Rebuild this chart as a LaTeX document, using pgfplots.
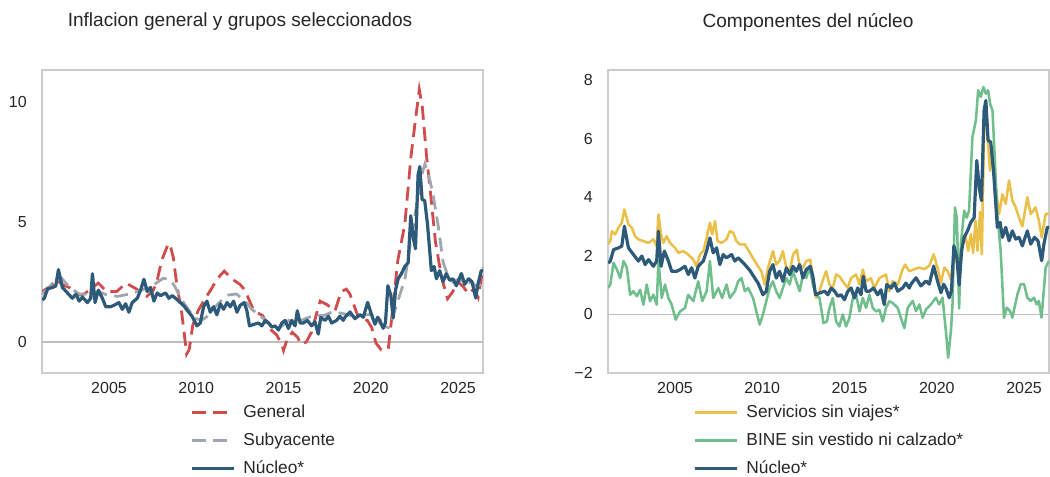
\documentclass[border=0pt]{standalone}
\usepackage{fontspec}
\setmainfont{Liberation Sans}
\usepackage{pgfplots}
\usepackage{pgfplotstable}
\pgfplotsset{compat=1.18}
\definecolor{cred}{RGB}{208,76,76}
\definecolor{cgray}{RGB}{160,166,176}
\definecolor{cblue}{RGB}{45,90,120}
\definecolor{cyel}{RGB}{234,192,72}
\definecolor{cgreen}{RGB}{112,190,140}
\definecolor{ctext}{RGB}{38,38,38}
\definecolor{cframe}{RGB}{204,204,204}
\definecolor{czero}{RGB}{190,190,190}

\pgfplotstableread{
x y
2001.17 1.75
2001.29 1.82
2001.48 2.21
2001.76 2.27
2001.95 2.33
2002.10 3.01
2002.33 2.27
2002.62 2.04
2002.90 1.82
2003.10 1.99
2003.29 1.70
2003.48 1.87
2003.76 1.64
2003.95 1.82
2004.05 2.84
2004.20 1.64
2004.39 2.16
2004.62 1.82
2004.81 1.47
2005.10 1.47
2005.29 1.53
2005.57 1.64
2005.76 1.36
2005.95 1.59
2006.14 1.24
2006.33 1.64
2006.62 1.82
2006.81 2.16
2007.00 2.61
2007.19 2.10
2007.38 2.27
2007.57 1.70
2007.76 2.04
2007.95 1.93
2008.24 2.04
2008.43 1.82
2008.62 1.93
2008.81 1.82
2009.00 1.70
2009.29 1.50
2009.57 1.24
2009.76 1.07
2010.04 0.67
2010.23 0.79
2010.42 1.47
2010.61 1.70
2010.80 1.24
2010.99 1.47
2011.18 1.13
2011.38 1.59
2011.57 1.36
2011.76 1.64
2011.95 1.47
2012.14 1.70
2012.33 1.24
2012.52 1.53
2012.75 1.64
2012.90 1.30
2013.05 0.67
2013.28 0.73
2013.57 0.79
2013.76 0.67
2013.95 0.90
2014.14 0.79
2014.33 0.62
2014.52 0.67
2014.71 0.50
2014.90 0.79
2015.09 0.90
2015.28 0.56
2015.47 0.90
2015.66 0.67
2015.79 1.30
2015.95 0.79
2016.14 0.79
2016.37 0.90
2016.61 0.67
2016.80 0.84
2016.99 0.33
2017.13 1.02
2017.38 0.90
2017.57 1.07
2017.76 0.79
2018.04 0.90
2018.23 1.07
2018.42 0.90
2018.52 1.03
2018.81 1.25
2019.09 0.97
2019.38 1.14
2019.57 1.03
2019.82 1.65
2020.04 1.14
2020.24 0.74
2020.39 1.03
2020.52 0.90
2020.71 0.57
2020.84 0.80
2020.98 2.34
2021.15 1.94
2021.28 1.00
2021.42 2.17
2021.57 2.63
2021.76 2.85
2021.95 3.14
2022.14 3.30
2022.29 5.25
2022.43 4.34
2022.56 3.88
2022.71 6.96
2022.81 7.30
2022.94 5.94
2023.09 5.88
2023.25 4.90
2023.38 3.77
2023.47 2.97
2023.63 3.14
2023.76 2.63
2023.95 2.97
2024.14 2.51
2024.33 2.85
2024.52 2.57
2024.71 2.63
2024.90 2.34
2025.19 2.85
2025.38 2.40
2025.60 2.63
2025.80 2.51
2026.01 1.83
2026.14 2.40
2026.33 2.97
2026.43 2.97
}\nucleo

\pgfplotstableread{
x y
2001.17 2.10
2001.60 2.30
2002.00 2.60
2002.29 2.40
2002.77 2.25
2003.25 1.95
2003.60 2.00
2003.92 2.20
2004.39 2.45
2004.87 2.10
2005.44 2.10
2005.98 2.45
2006.59 2.20
2006.90 2.00
2007.16 1.90
2007.50 2.10
2007.74 2.50
2008.02 3.40
2008.40 4.10
2008.55 3.90
2008.69 3.50
2008.88 2.40
2009.17 1.20
2009.45 -0.50
2009.60 -0.30
2009.80 0.70
2010.10 1.30
2010.50 1.80
2010.90 2.25
2011.17 2.60
2011.60 2.95
2012.10 2.60
2012.50 2.40
2012.80 2.15
2013.00 1.80
2013.30 1.30
2013.80 1.10
2014.20 0.55
2014.60 0.30
2014.90 -0.10
2015.00 -0.35
2015.20 0.10
2015.50 0.40
2015.80 0.20
2016.00 -0.10
2016.30 0.00
2016.60 0.40
2016.90 1.20
2017.10 1.70
2017.50 1.55
2017.95 1.30
2018.30 2.10
2018.60 2.20
2018.80 2.00
2019.30 1.00
2019.80 0.90
2020.05 0.60
2020.30 -0.05
2020.60 -0.33
2021.00 -0.30
2021.20 1.00
2021.55 3.40
2021.95 4.90
2022.30 7.70
2022.55 9.20
2022.78 10.50
2022.95 9.80
2023.20 7.70
2023.45 6.00
2023.70 4.20
2024.05 2.70
2024.40 1.80
2024.70 2.10
2025.00 2.50
2025.30 2.30
2025.60 2.00
2025.90 2.20
2026.15 1.85
2026.43 3.10
}\general

\pgfplotstableread{
x y
2001.17 2.00
2001.60 2.30
2002.00 2.60
2002.29 2.65
2002.77 2.25
2003.30 2.00
2003.90 2.00
2004.40 2.10
2004.90 1.95
2005.50 1.90
2006.20 2.00
2006.80 2.15
2007.40 2.30
2008.10 2.65
2008.50 2.60
2008.78 2.30
2009.17 1.75
2009.50 1.40
2009.90 1.00
2010.30 0.90
2010.60 1.05
2011.00 1.40
2011.40 1.70
2011.80 1.95
2012.30 2.00
2012.80 1.70
2013.20 1.35
2013.90 0.95
2014.30 0.70
2014.80 0.60
2015.30 0.90
2016.00 0.90
2016.70 1.10
2017.30 1.10
2017.80 1.25
2018.30 1.20
2018.90 1.10
2019.50 1.10
2019.90 1.15
2020.20 1.10
2020.60 0.70
2021.00 0.60
2021.20 0.90
2021.50 1.60
2021.95 2.60
2022.30 4.20
2022.60 5.60
2022.90 6.90
2023.10 7.40
2023.30 7.00
2023.55 6.20
2023.85 4.90
2024.15 3.30
2024.40 2.80
2024.70 2.50
2025.00 2.60
2025.40 2.50
2025.80 2.45
2026.10 2.30
2026.43 2.50
}\subyacente

\pgfplotstableread{
x y
2001.17 2.40
2001.29 2.50
2001.38 2.84
2001.57 2.73
2001.76 2.96
2001.95 3.13
2002.10 3.58
2002.33 3.07
2002.52 2.96
2002.71 2.67
2002.90 2.56
2003.19 2.50
2003.48 2.44
2003.76 2.56
2003.95 2.33
2004.05 3.41
2004.20 2.73
2004.33 2.44
2004.52 2.67
2004.71 2.44
2005.00 2.27
2005.19 2.10
2005.48 2.16
2005.76 2.04
2006.05 1.87
2006.24 1.64
2006.43 2.04
2006.62 2.16
2006.81 2.61
2007.00 3.13
2007.13 2.73
2007.29 3.18
2007.44 2.50
2007.67 2.44
2007.95 2.56
2008.14 2.84
2008.33 2.79
2008.52 2.50
2008.71 2.39
2009.00 2.39
2009.23 2.16
2009.57 1.82
2009.76 1.64
2009.95 1.47
2010.14 1.02
2010.33 1.59
2010.61 2.16
2010.80 1.70
2010.99 1.82
2011.18 2.16
2011.38 1.59
2011.57 1.47
2011.76 2.04
2011.98 2.21
2012.14 1.64
2012.33 1.59
2012.52 1.82
2012.75 1.87
2012.90 1.24
2013.09 0.56
2013.28 0.79
2013.51 1.24
2013.66 1.47
2013.85 1.02
2014.04 0.90
2014.23 1.36
2014.42 1.30
2014.61 1.13
2014.90 0.90
2015.09 1.24
2015.38 1.36
2015.57 1.02
2015.76 1.53
2015.95 1.13
2016.23 1.24
2016.42 0.90
2016.71 1.24
2016.90 1.30
2017.09 1.36
2017.28 0.79
2017.47 1.13
2017.76 1.02
2018.04 1.53
2018.19 1.70
2018.42 1.47
2018.71 1.54
2019.00 1.60
2019.28 1.54
2019.57 1.66
2019.82 2.05
2020.04 1.60
2020.24 1.08
2020.43 1.60
2020.62 1.48
2020.81 1.20
2021.00 2.00
2021.15 1.80
2021.28 1.30
2021.42 2.00
2021.47 2.40
2021.66 2.63
2021.80 2.17
2021.95 2.74
2022.08 2.10
2022.22 3.20
2022.33 2.17
2022.48 3.50
2022.58 2.05
2022.71 6.20
2022.81 7.20
2022.94 5.80
2023.05 4.90
2023.19 5.70
2023.38 4.34
2023.57 3.42
2023.76 4.10
2023.95 3.77
2024.14 4.57
2024.33 3.88
2024.52 3.65
2024.71 3.31
2024.90 3.00
2025.19 4.00
2025.38 3.42
2025.66 3.65
2025.85 3.20
2026.01 2.63
2026.24 3.42
2026.43 3.45
}\servicios

\pgfplotstableread{
x y
2001.17 0.90
2001.29 1.02
2001.48 1.76
2001.67 1.53
2001.86 1.24
2002.05 1.82
2002.24 1.59
2002.43 0.67
2002.62 0.79
2002.81 0.62
2003.00 0.84
2003.19 0.33
2003.38 1.02
2003.57 0.45
2003.76 0.67
2003.95 0.33
2004.05 1.82
2004.24 0.56
2004.43 1.02
2004.62 0.56
2004.81 0.33
2005.04 -0.18
2005.29 0.10
2005.57 0.22
2005.76 0.67
2006.05 0.45
2006.33 1.13
2006.56 0.45
2006.81 0.79
2007.00 1.82
2007.19 0.56
2007.48 0.90
2007.70 0.56
2007.95 1.02
2008.14 0.56
2008.43 0.79
2008.62 1.13
2008.81 1.24
2009.00 0.79
2009.19 0.90
2009.28 0.79
2009.47 0.56
2009.66 0.10
2009.85 -0.35
2010.04 0.00
2010.23 0.45
2010.42 0.90
2010.61 1.13
2010.80 0.79
2010.99 0.56
2011.18 0.90
2011.38 1.24
2011.57 1.02
2011.76 1.47
2011.95 1.13
2012.14 0.79
2012.33 1.36
2012.52 1.24
2012.71 1.59
2012.90 1.02
2013.09 0.67
2013.28 0.56
2013.51 -0.30
2013.70 -0.24
2013.85 0.22
2014.04 0.56
2014.23 -0.24
2014.42 -0.41
2014.61 0.00
2014.80 -0.41
2014.99 -0.13
2015.19 0.56
2015.38 0.67
2015.57 0.10
2015.76 0.56
2015.95 0.22
2016.14 0.67
2016.33 0.22
2016.52 0.10
2016.71 0.16
2016.90 -0.24
2017.09 0.22
2017.28 0.45
2017.47 0.39
2017.76 0.22
2017.95 -0.13
2018.14 -0.47
2018.33 0.22
2018.62 0.46
2018.81 0.11
2019.00 0.34
2019.19 -0.11
2019.38 0.17
2019.66 0.34
2019.95 0.57
2020.14 0.34
2020.33 0.57
2020.52 -0.57
2020.65 -1.48
2020.81 -0.57
2020.90 0.34
2021.04 3.65
2021.15 3.30
2021.28 0.20
2021.38 2.40
2021.57 3.54
2021.72 3.30
2021.85 3.54
2022.04 6.05
2022.24 6.62
2022.37 7.65
2022.52 7.42
2022.67 7.76
2022.81 7.53
2022.94 7.65
2023.05 7.20
2023.19 6.96
2023.32 5.37
2023.47 3.42
2023.66 2.17
2023.85 -0.11
2024.01 0.23
2024.20 0.11
2024.33 -0.11
2024.62 0.68
2024.81 1.03
2025.00 1.03
2025.19 0.57
2025.38 0.46
2025.57 0.57
2025.72 0.34
2025.85 0.46
2026.00 -0.11
2026.24 1.60
2026.43 1.83
}\bine

\pgfplotsset{
 mystyle/.style={
  scale only axis, width=330.75pt, height=227.25pt,
  anchor=south west,
  axis line style={cframe, line width=0.9pt},
  tick style={draw=none},
  major tick length=0pt,
  tick label style={font=\fontsize{12}{14}\selectfont, text=ctext},
  /pgf/number format/assume math mode=true,
  /pgf/number format/1000 sep={},
  xtick={2005,2010,2015,2020,2025},
  xticklabel style={inner sep=0pt, anchor=north, yshift=-6.75pt},
  yticklabel style={inner sep=0pt, anchor=east, xshift=-11.25pt},
  xmin=2001.16, xmax=2026.43,
  legend cell align=left,
  legend style={draw=none, fill=none, font=\fontsize{13}{15}\selectfont, text=ctext, anchor=north west, inner sep=0pt, row sep=6pt, /tikz/every odd column/.append style={column sep=4pt}},
  legend image code/.code={\draw[##1] (0pt,0pt) -- (31.5pt,0pt);},
  title style={font=\fontsize{14.3}{17}\selectfont, text=ctext},
 }
}

\begin{document}
\begin{tikzpicture}
\useasboundingbox (0,0) rectangle (787.5pt,357.75pt);
\begin{axis}[mystyle, at={(31.5pt,78pt)},
  ymin=-1.29, ymax=11.32, ytick={0,5,10},
  title={Inflacion general y grupos seleccionados},
  title style={at={(0.449,1.132)}, anchor=center},
  legend style={at={(0.3356,-0.097)}}]
\addplot[forget plot, czero, line width=1.1pt] coordinates {(2000,0) (2028,0)};
\addplot[cred, line width=2.1pt, dash pattern=on 10.5pt off 5.5pt] table {\general};
\addlegendentry{General}
\addplot[cgray, line width=2.1pt, dash pattern=on 10.5pt off 5.5pt] table {\subyacente};
\addlegendentry{Subyacente}
\addplot[cblue, line width=2.4pt, line join=round] table {\nucleo};
\addlegendentry{Núcleo*}
\end{axis}
\begin{axis}[mystyle, at={(456pt,78pt)},
  ymin=-2, ymax=8.34, ytick={-2,0,2,4,6,8},
  yticklabels={−2,0,2,4,6,8},
  title={Componentes del núcleo},
  title style={at={(0.4535,1.132)}, anchor=center},
  legend style={at={(0.1927,-0.097)}}]
\addplot[forget plot, czero, line width=1.1pt] coordinates {(2000,0) (2028,0)};
\addplot[cyel, line width=1.9pt, line join=round] table {\servicios};
\addlegendentry{Servicios sin viajes*}
\addplot[cgreen, line width=1.9pt, line join=round] table {\bine};
\addlegendentry{BINE sin vestido ni calzado*}
\addplot[cblue, line width=2.4pt, line join=round] table {\nucleo};
\addlegendentry{Núcleo*}
\end{axis}
\end{tikzpicture}
\end{document}
